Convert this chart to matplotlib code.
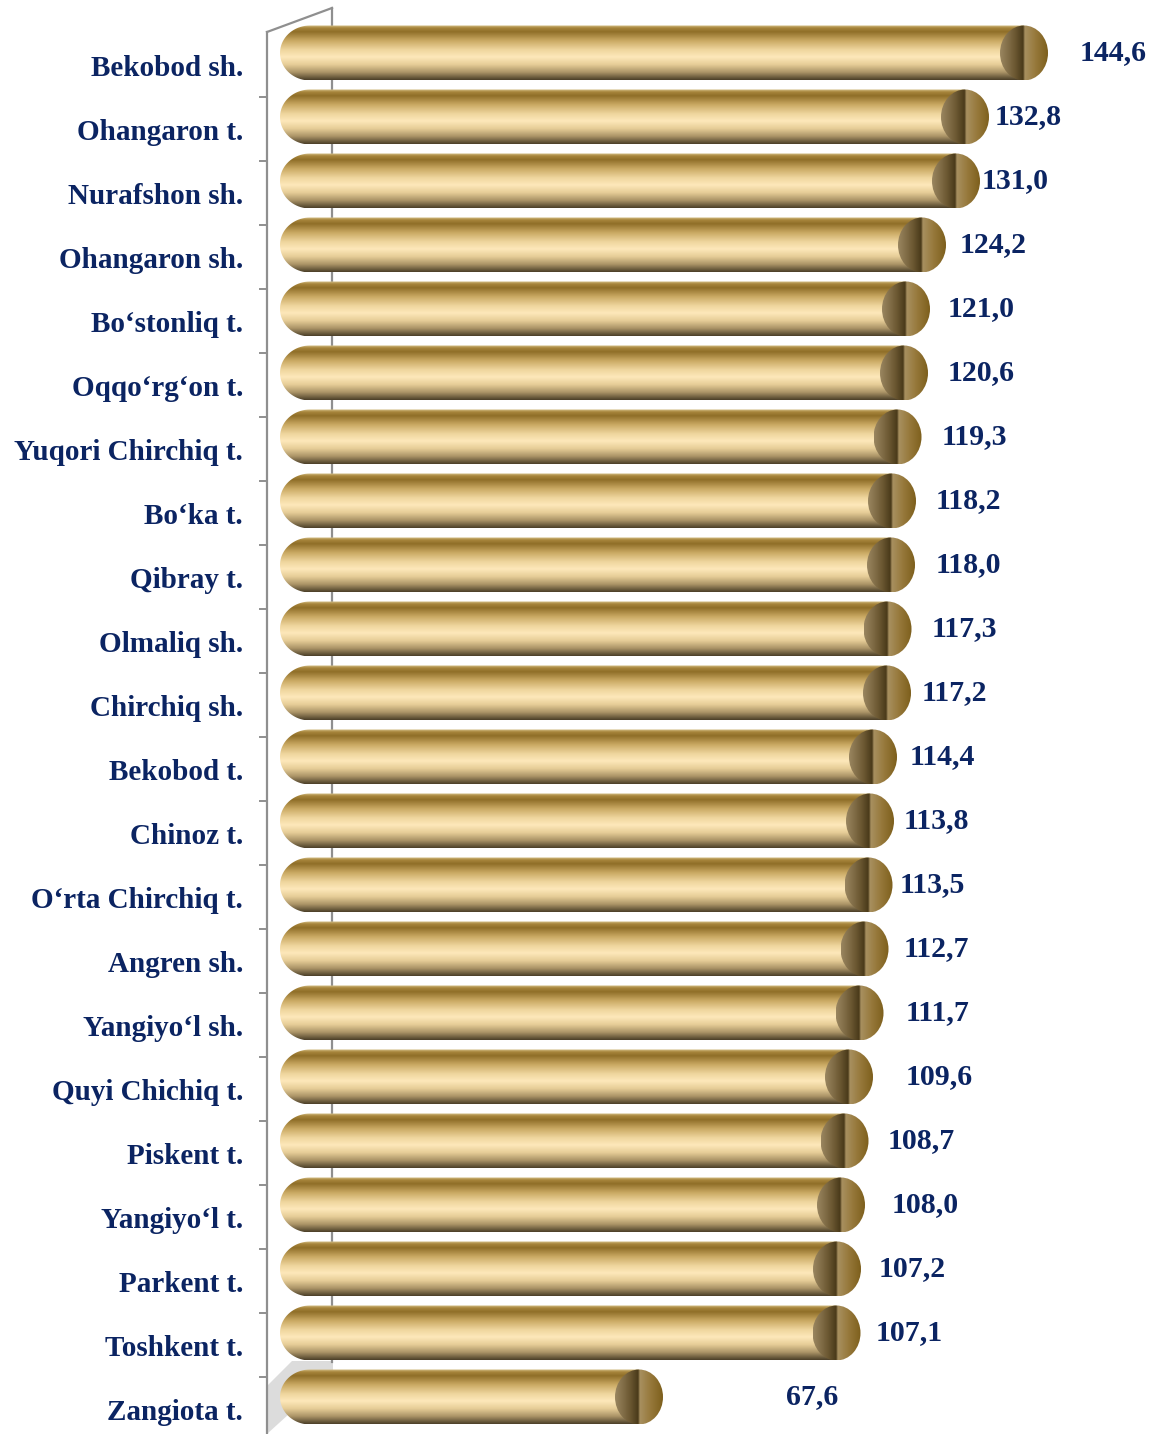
import numpy as np
import matplotlib
matplotlib.use('Agg')
import matplotlib.pyplot as plt
from matplotlib.path import Path
from matplotlib.patches import PathPatch, Ellipse, Polygon
from matplotlib.colors import LinearSegmentedColormap

# data, top to bottom
districts = ['Bekobod sh.', 'Ohangaron t.', 'Nurafshon sh.', 'Ohangaron sh.',
             'Bo\u2018stonliq t.', 'Oqqo\u2018rg\u2018on t.', 'Yuqori Chirchiq t.',
             'Bo\u2018ka t.', 'Qibray t.', 'Olmaliq sh.', 'Chirchiq sh.',
             'Bekobod t.', 'Chinoz t.', 'O\u2018rta Chirchiq t.', 'Angren sh.',
             'Yangiyo\u2018l sh.', 'Quyi Chichiq t.', 'Piskent t.', 'Yangiyo\u2018l t.',
             'Parkent t.', 'Toshkent t.', 'Zangiota t.']
values = [144.6, 132.8, 131.0, 124.2, 121.0, 120.6, 119.3, 118.2, 118.0, 117.3,
          117.2, 114.4, 113.8, 113.5, 112.7, 111.7, 109.6, 108.7, 108.0, 107.2,
          107.1, 67.6]

# extra horizontal shift of each value label (pixels), as placed in the original
label_nudge_px = [32, 6, 2, 14, 18, 20, 20, 20, 21, 20, 11, 13, 10, 7, 15, 22,
                  33, 19, 27, 18, 15, 123]

W, H = 1157, 1434
PX = 5.0          # pixels per unit of value
X0 = 301          # pixel position of value 0
Y0, PITCH = 53, 64

fig = plt.figure(figsize=(W / 100, H / 100), dpi=100)
ax = fig.add_axes([0, 0, 1, 1])
ax.set_xlim(-X0 / PX, (W - X0) / PX)
ax.set_ylim((H - Y0) / PITCH, -Y0 / PITCH)
ax.axis('off')

u = 1.0 / PX          # one pixel in x data units
v = 1.0 / PITCH       # one pixel in y data units

navy = '#0b2462'
wall = '#8f8f8f'

# body gradient (top -> bottom)
body_cmap = LinearSegmentedColormap.from_list('body', [
    (0.00, '#d8c48e'), (0.05, '#a8863c'), (0.12, '#8f6e28'), (0.28, '#c9a862'),
    (0.45, '#efd69e'), (0.58, '#fde8ba'), (0.72, '#e6cd97'), (0.86, '#ab9467'),
    (1.00, '#4b3f28')])
cap_cmap = LinearSegmentedColormap.from_list('cap', [
    (0.00, '#9a8660'), (0.30, '#6e5a34'), (0.48, '#4a3a1a'), (0.52, '#a89060'),
    (0.75, '#96783a'), (1.00, '#7d5f1c')])

grad_v = np.linspace(0, 1, 256).reshape(-1, 1)
grad_h = np.linspace(0, 1, 256).reshape(1, -1)

# walls
floor = Polygon([[(267 - X0) * u, (1386 - Y0) * v], [(292 - X0) * u, (1361 - Y0) * v],
                 [(333 - X0) * u, (1361 - Y0) * v], [(333 - X0) * u, (1374 - Y0) * v],
                 [(267 - X0) * u, (1434 - Y0) * v]],
                closed=True, facecolor='#d4d4d4', edgecolor='none', alpha=0.8, zorder=0)
ax.add_patch(floor)
ax.plot([(267 - X0) * u, (267 - X0) * u], [(32 - Y0) * v, (H - Y0) * v],
        color=wall, lw=1.6, zorder=1)
ax.plot([(332 - X0) * u, (332 - X0) * u], [(8 - Y0) * v, (1362 - Y0) * v],
        color=wall, lw=1.6, zorder=1)
ax.plot([(267 - X0) * u, (332 - X0) * u], [(32 - Y0) * v, (8 - Y0) * v],
        color=wall, lw=1.6, zorder=1)
for i in range(len(districts)):
    ty = i + 0.5 + 12 * v
    ax.plot([(260 - X0) * u, (267 - X0) * u], [ty, ty], color=wall, lw=1.4, zorder=1)

half_h = 27.5 * v
r_left = 30 * u
r_cap = 24 * u
x_start = (280 - X0) * u

for i, (name, val) in enumerate(zip(districts, values)):
    # cylinder body with rounded left end
    t = np.linspace(np.pi / 2, 3 * np.pi / 2, 40)
    xs = list(x_start + r_left + r_left * np.cos(t)) + [val, val]
    ys = list(i - half_h * np.sin(t)) + [i + half_h, i - half_h]
    verts = list(zip(xs, ys)) + [(xs[0], ys[0])]
    codes = [Path.MOVETO] + [Path.LINETO] * (len(verts) - 2) + [Path.CLOSEPOLY]
    body = PathPatch(Path(verts, codes), facecolor='none', edgecolor='none')
    ax.add_patch(body)
    im = ax.imshow(grad_v, cmap=body_cmap, aspect='auto', origin='upper',
                   extent=(x_start, val, i + half_h, i - half_h), zorder=2)
    im.set_clip_path(body)

    # end cap
    cap = Ellipse((val, i), 2 * r_cap, 2 * half_h, facecolor='none', edgecolor='none')
    ax.add_patch(cap)
    imc = ax.imshow(grad_h, cmap=cap_cmap, aspect='auto', origin='upper',
                    extent=(val - r_cap, val + r_cap, i + half_h, i - half_h), zorder=3)
    imc.set_clip_path(cap)

    # category label
    ax.text((243 - X0) * u, i + 15 * v, name, ha='right', va='center',
            fontsize=21, fontweight='bold', family='Liberation Serif', color=navy)
    # value label
    ax.text(val + r_cap + label_nudge_px[i] * u, i,
            f'{val:.1f}'.replace('.', ','), ha='left', va='center',
            fontsize=21.5, fontweight='bold', family='Liberation Serif', color=navy)

ax.set_xlim(-X0 / PX, (W - X0) / PX)
ax.set_ylim((H - Y0) / PITCH, -Y0 / PITCH)

plt.savefig('out.png', dpi=100)
